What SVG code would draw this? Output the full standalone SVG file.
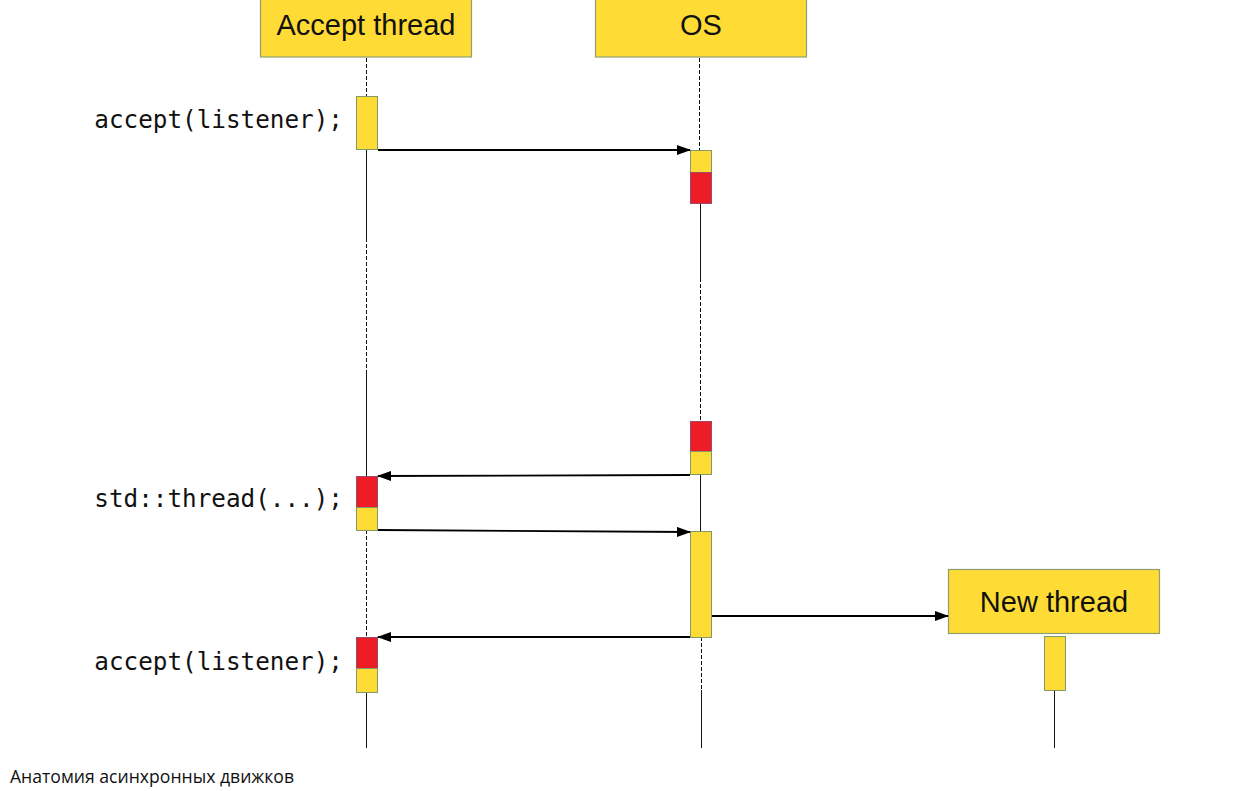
<svg xmlns="http://www.w3.org/2000/svg" width="1248" height="791" viewBox="0 0 1248 791">
<defs>
<style>
.head{fill:#FFDC35;stroke:#8FA070;stroke-width:1.2}
.y{fill:#FFDC35;stroke:#7E9A6A;stroke-width:1}
.r{fill:#EE1D25;stroke:#9A4A6A;stroke-width:1}
.ht{font-family:"Liberation Sans",Arial,sans-serif;font-size:29px;fill:#111;text-anchor:middle}
.code{font-family:"DejaVu Sans Mono","Liberation Mono",monospace;font-size:24.3px;fill:#111;text-anchor:end}
.life{stroke:#111;stroke-width:1;fill:none}
.dash{stroke:#111;stroke-width:1;stroke-dasharray:4,2;fill:none}
.msg{stroke:#000;stroke-width:1.8;fill:none;marker-end:url(#ah)}
.foot{font-family:"Open Sans","Noto Sans",sans-serif;font-size:17.6px;fill:#111}
</style>
<marker id="ah" markerWidth="14" markerHeight="10" refX="13" refY="5" orient="auto" markerUnits="userSpaceOnUse">
<path d="M0,0 L14,5 L0,10 Z" fill="#000"/>
</marker>
</defs>
<rect width="1248" height="791" fill="#fff"/>
<g id="lifelines">
<line class="dash" x1="366.5" y1="58" x2="366.5" y2="96"/>
<line class="life" x1="366.5" y1="150" x2="366.5" y2="238"/>
<line class="dash" x1="366.5" y1="238" x2="366.5" y2="372"/>
<line class="life" x1="366.5" y1="372" x2="366.5" y2="476"/>
<line class="dash" x1="366.5" y1="530" x2="366.5" y2="637"/>
<line class="life" x1="366.5" y1="692" x2="366.5" y2="748"/>
<line class="dash" x1="699.5" y1="58" x2="699.5" y2="150"/>
<line class="life" x1="700.5" y1="203" x2="700.5" y2="278"/>
<line class="dash" x1="700.5" y1="278" x2="700.5" y2="421"/>
<line class="life" x1="700.5" y1="474" x2="700.5" y2="531"/>
<line class="dash" x1="701.5" y1="637" x2="701.5" y2="690"/>
<line class="life" x1="701.5" y1="690" x2="701.5" y2="748"/>
<line class="life" x1="1054.5" y1="690" x2="1054.5" y2="748"/>
</g>
<g id="accept-thread">
<rect class="head" x="260.5" y="-1" width="211" height="58"/>
<text class="ht" x="366" y="35">Accept thread</text>
</g>
<g id="os">
<rect class="head" x="595.5" y="-1" width="211" height="58"/>
<text class="ht" x="701" y="35">OS</text>
</g>
<g id="new-thread">
<rect class="head" x="948.5" y="569.5" width="211" height="64"/>
<text class="ht" x="1054" y="612">New thread</text>
</g>
<g id="activations">
<rect class="y" x="356.5" y="96.5" width="21" height="53"/>
<rect class="y" x="690.5" y="150.5" width="21" height="22"/>
<rect class="r" x="690.5" y="172.5" width="21" height="31"/>
<rect class="r" x="690.5" y="421.5" width="21" height="30"/>
<rect class="y" x="690.5" y="451.5" width="21" height="23"/>
<rect class="r" x="356.5" y="476.5" width="21" height="31"/>
<rect class="y" x="356.5" y="507.5" width="21" height="23"/>
<rect class="y" x="690.5" y="531.5" width="21" height="106"/>
<rect class="r" x="356.5" y="637.5" width="21" height="31"/>
<rect class="y" x="356.5" y="668.5" width="21" height="24"/>
<rect class="y" x="1044.5" y="636.5" width="21" height="54"/>
</g>
<g id="connectors">
<line class="msg" x1="378" y1="150" x2="690" y2="150"/>
<line class="msg" x1="690" y1="475" x2="378" y2="476"/>
<line class="msg" x1="378" y1="530" x2="690" y2="532"/>
<line class="msg" x1="712" y1="616" x2="948" y2="616"/>
<line class="msg" x1="690" y1="637" x2="378" y2="637"/>
</g>
<g id="labels">
<text class="code" x="343" y="128">accept(listener);</text>
<text class="code" x="343" y="507">std::thread(...);</text>
<text class="code" x="343" y="670">accept(listener);</text>
<text class="foot" x="10" y="783">Анатомия асинхронных движков</text>
</g>
</svg>
